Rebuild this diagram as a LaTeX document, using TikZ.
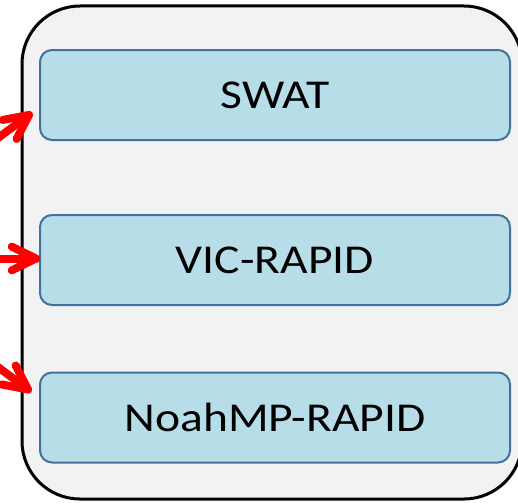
\documentclass[tikz,border=0pt]{standalone}
\usepackage{fontspec}
\setmainfont{Carlito}[FakeStretch=1.16]
\usetikzlibrary{calc}
\definecolor{outerfill}{HTML}{F2F2F2}
\definecolor{boxfill}{HTML}{B7DEE8}
\definecolor{boxline}{HTML}{41719C}
\tikzset{
  model/.style={draw=boxline, fill=boxfill, line width=2pt, rounded corners=12pt,
    minimum width=470pt, minimum height=90pt, inner sep=0pt, font=\fontsize{41}{46}\selectfont},
  feed/.style={draw=red, line width=8pt, line cap=round, line join=round}
}
\newcommand{\feedarrow}[2]{%
  \draw[feed] (#1) -- (#2);
  \draw[feed] ($(#2)!27pt!26:(#1)$) -- (#2) -- ($(#2)!27pt!-26:(#1)$);
}
\begin{document}
\begin{tikzpicture}[x=1pt,y=-1pt]
\useasboundingbox (0,0) rectangle (518,503);
\clip (0,0) rectangle (518,503);
\draw[fill=outerfill, line width=3pt, rounded corners=58pt] (22,6) rectangle (522,499);
\node[model] (swat) at (275,95) {SWAT};
\node[model] (vic) at (275,260) {VIC-RAPID};
\node[model] (noah) at (275,417.5) {NoahMP-RAPID};
\coordinate (s1) at (-10,144);
\coordinate (t1) at (29,115);
\coordinate (s2) at (-10,258.5);
\coordinate (t2) at (36,258.5);
\coordinate (s3) at (-10,361);
\coordinate (t3) at (28,389.5);
\feedarrow{s1}{t1}
\feedarrow{s2}{t2}
\feedarrow{s3}{t3}
\end{tikzpicture}
\end{document}
